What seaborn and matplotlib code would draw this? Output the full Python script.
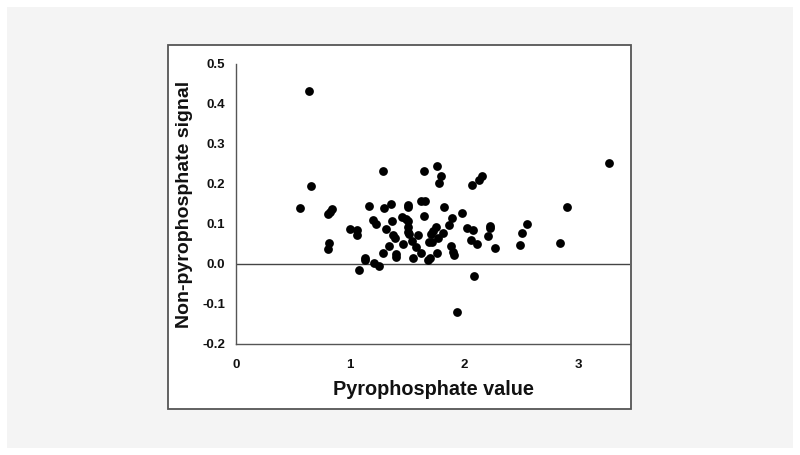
import matplotlib
matplotlib.use("Agg")
import matplotlib.pyplot as plt
import seaborn as sns
import pandas as pd
from matplotlib.patches import Rectangle

# ---- data ----
pyro_value = [
    0.564, 0.637, 0.658, 0.810, 0.825, 0.840, 0.818, 0.804, 1.003, 1.064,
    1.058, 1.083, 1.130, 1.130, 1.168, 1.205, 1.228, 1.208, 1.254, 1.288,
    1.287, 1.297, 1.315, 1.345, 1.360, 1.366, 1.374, 1.393, 1.404, 1.404,
    1.462, 1.459, 1.490, 1.507, 1.507, 1.510, 1.505, 1.510, 1.520, 1.547,
    1.556, 1.578, 1.600, 1.623, 1.623, 1.654, 1.645, 1.650, 1.680, 1.700,
    1.690, 1.720, 1.710, 1.730, 1.757, 1.774, 1.765, 1.765, 1.779, 1.797,
    1.820, 1.828, 1.864, 1.895, 1.886, 1.900, 1.913, 1.940, 1.980, 2.024,
    2.064, 2.069, 2.082, 2.091, 2.117, 2.135, 2.162, 2.207, 2.225, 2.230,
    2.270, 2.488, 2.506, 2.555, 2.845, 2.907, 3.272,
]
non_pyro_signal = [
    0.139, 0.433, 0.195, 0.124, 0.131, 0.138, 0.053, 0.0375, 0.087, 0.085,
    0.0725, -0.015, 0.016, 0.010, 0.144, 0.110, 0.101, 0.003, -0.004, 0.2325,
    0.028, 0.140, 0.087, 0.044, 0.151, 0.107, 0.072, 0.066, 0.024, 0.017,
    0.050, 0.117, 0.113, 0.148, 0.142, 0.108, 0.093, 0.081, 0.075, 0.0575,
    0.016, 0.043, 0.0725, 0.0275, 0.157, 0.157, 0.119, 0.232, 0.011, 0.015,
    0.054, 0.056, 0.074, 0.082, 0.092, 0.064, 0.0275, 0.244, 0.203, 0.219,
    0.0775, 0.143, 0.0975, 0.115, 0.046, 0.031, 0.023, -0.121, 0.1275, 0.090,
    0.061, 0.1975, 0.086, -0.031, 0.051, 0.209, 0.221, 0.071, 0.094, 0.089,
    0.039, 0.0475, 0.0775, 0.101, 0.0525, 0.1425, 0.252,
]
x_ticks = [0, 1, 2, 3]
x_tick_labels = ["0", "1", "2", "3"]
y_ticks = [-0.2, -0.1, 0.0, 0.1, 0.2, 0.3, 0.4, 0.5]
y_tick_labels = ["-0.2", "-0.1", "0.0", "0.1", "0.2", "0.3", "0.4", "0.5"]
x_label = "Pyrophosphate value"
y_label = "Non-pyrophosphate signal"

df = pd.DataFrame({"x": pyro_value, "y": non_pyro_signal})

sns.set_style("white")
plt.rcParams["font.family"] = ["Liberation Sans", "DejaVu Sans"]

W, H = 800, 455
fig = plt.figure(figsize=(W / 100, H / 100), dpi=100, facecolor="white")

# gray card
fig.patches.append(Rectangle((7 / W, 1 - 448 / H), (793 - 7) / W, (448 - 7) / H,
                             transform=fig.transFigure, facecolor="#f4f4f4",
                             edgecolor="none", zorder=-3))
# white panel with border
fig.patches.append(Rectangle((168 / W, 1 - 409 / H), (631 - 168) / W, (409 - 45) / H,
                             transform=fig.transFigure, facecolor="white",
                             edgecolor="#555555", linewidth=1.3, zorder=-2))

ax = fig.add_axes([236 / W, 1 - 344 / H, (630 - 236) / W, (344 - 64) / H])
ax.patch.set_alpha(0)

sns.scatterplot(data=df, x="x", y="y", ax=ax, color="black", s=40,
                linewidth=0, zorder=3, legend=False)

ax.axhline(0, color="#444444", linewidth=1.0, zorder=2)

ax.set_xlim(0, 3.456)
ax.set_ylim(-0.2, 0.5)
ax.set_xticks(x_ticks)
ax.set_xticklabels(x_tick_labels)
ax.set_yticks(y_ticks)
ax.set_yticklabels(y_tick_labels)

for side in ["top", "right"]:
    ax.spines[side].set_visible(False)
for side in ["left", "bottom"]:
    ax.spines[side].set_color("#555555")
    ax.spines[side].set_linewidth(1.0)

ax.tick_params(axis="both", direction="out", length=3.5, width=1.0,
               color="#555555", labelsize=9.5, labelcolor="#111111")
ax.tick_params(axis="x", pad=7)
ax.tick_params(axis="y", pad=4.5)
for lab in ax.get_xticklabels() + ax.get_yticklabels():
    lab.set_fontweight("bold")

ax.set_xlabel(x_label, fontsize=14.3, fontweight="bold", color="#111111")
ax.set_ylabel(y_label, fontsize=14, fontweight="bold", color="#111111")
ax.xaxis.set_label_coords(0.5, -0.13)
ax.yaxis.set_label_coords(-0.11, 0.5)

fig.savefig("out.png", dpi=100, facecolor="white")
